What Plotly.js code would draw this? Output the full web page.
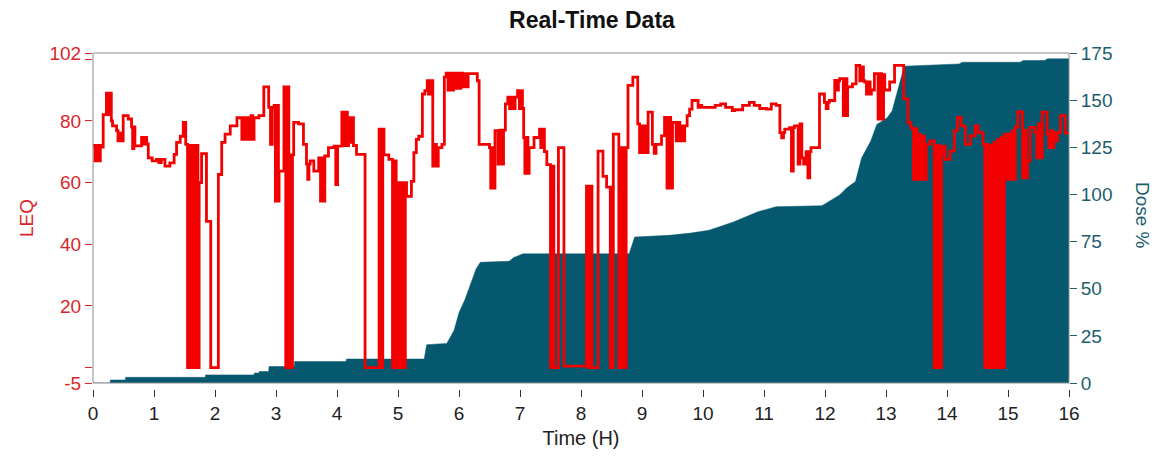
<!DOCTYPE html>
<html>
<head>
<meta charset="utf-8">
<script src="https://cdn.plot.ly/plotly-3.0.1.min.js"></script>
<style>
  html, body { margin: 0; padding: 0; background: #ffffff; }
  #chart { width: 1157px; height: 456px; }
</style>
</head>
<body>
<div id="chart"></div>
<script>
// ---- Data ----
// LEQ (dB) step series: time in hours, value in dB
const leqTime = [
  0.00,0.03,0.06,0.09,0.12,0.14,0.167,0.22,0.25,0.28,0.30,0.32,0.386,0.41,0.44,0.47,0.495,0.577,0.632,0.65,
  0.67,0.687,0.796,0.82,0.85,0.88,0.906,0.97,1.04,1.08,1.12,1.18,1.26,1.33,1.37,1.43,1.48,1.52,1.55,1.58,
  1.61,1.64,1.67,1.70,1.72,1.74,1.78,1.86,1.93,2.055,2.11,2.165,2.25,2.36,2.44,2.47,2.50,2.53,2.56,2.59,
  2.62,2.64,2.72,2.80,2.88,2.91,2.94,2.97,2.99,3.02,3.04,3.05,3.13,3.16,3.19,3.21,3.23,3.25,3.27,3.29,
  3.37,3.45,3.50,3.52,3.54,3.56,3.62,3.70,3.73,3.76,3.78,3.80,3.86,3.95,3.98,4.01,4.08,4.11,4.14,4.17,
  4.19,4.22,4.25,4.27,4.32,4.46,4.69,4.72,4.75,4.77,4.85,4.91,4.94,4.97,5.00,5.03,5.06,5.09,5.12,5.14,
  5.22,5.26,5.30,5.34,5.40,5.44,5.48,5.50,5.52,5.54,5.56,5.57,5.60,5.63,5.66,5.72,5.76,5.79,5.82,5.85,
  5.88,5.91,5.94,5.97,6.00,6.03,6.06,6.09,6.12,6.15,6.30,6.33,6.50,6.52,6.55,6.57,6.59,6.64,6.67,6.70,
  6.73,6.76,6.80,6.83,6.86,6.89,6.92,6.96,6.99,7.02,7.04,7.06,7.08,7.11,7.13,7.15,7.23,7.32,7.34,7.37,
  7.40,7.44,7.50,7.53,7.555,7.63,7.72,8.09,8.12,8.15,8.18,8.28,8.36,8.42,8.48,8.50,8.52,8.53,8.62,8.645,
  8.67,8.695,8.72,8.74,8.77,8.85,8.93,8.96,8.99,9.02,9.05,9.08,9.10,9.17,9.20,9.23,9.32,9.37,9.41,9.44,
  9.47,9.50,9.56,9.59,9.62,9.65,9.68,9.70,9.74,9.78,9.82,9.92,9.95,9.98,10.20,10.29,10.37,10.48,10.52,10.65,
  10.76,10.84,10.93,11.04,11.12,11.20,11.26,11.29,11.32,11.34,11.42,11.45,11.48,11.50,11.56,11.59,11.62,11.65,11.69,11.72,
  11.75,11.77,11.91,11.99,12.02,12.05,12.07,12.16,12.19,12.22,12.24,12.30,12.33,12.36,12.37,12.45,12.51,12.57,12.60,12.63,
  12.65,12.68,12.71,12.74,12.76,12.81,12.87,12.90,12.93,12.96,12.98,13.06,13.14,13.29,13.36,13.40,13.42,13.45,13.48,13.51,
  13.54,13.57,13.60,13.63,13.66,13.72,13.79,13.82,13.85,13.88,13.90,13.91,13.93,13.95,13.97,14.05,14.12,14.17,14.23,14.30,
  14.38,14.46,14.51,14.59,14.62,14.65,14.68,14.71,14.74,14.77,14.80,14.83,14.86,14.89,14.92,14.94,14.98,15.01,15.04,15.07,
  15.10,15.12,15.16,15.20,15.24,15.27,15.30,15.32,15.36,15.44,15.47,15.50,15.53,15.56,15.64,15.67,15.70,15.73,15.75,15.78,
  15.81,15.86,15.94,16.00
];
const leqValue = [
  72,67,72,67,72,71.5,82,89,82,89,80,78.4,76.8,73.5,76,73.5,81.7,80.6,78,71,
  78,71.9,74.6,72.5,74.6,72.5,68,67,67.5,66.5,67.5,65.3,66.4,69.1,73,75,79.5,72.4,0,72,
  0,72,0,72,0,60,69.4,47.4,0,62.6,73,75.7,78.4,81,74,81,74,81,74,81.7,
  74,81,81.7,91,84.4,72.4,84.4,85,54,85,54,63.7,91,0,91,0,69,0,69,79.5,
  79,72.4,66,61,66,67,63.7,68,54,68,54,68.6,71.3,71.8,59.3,71.8,82.8,72,82.8,72,
  81,73,81,72,69.1,0,77.3,0,77.3,69,67.5,0,67,0,60,0,60,0,60,55.5,
  60.4,69.7,74,75,88.7,89.8,93,88.7,93,88.7,93,65.3,72.4,65.3,71.3,72.4,94.2,95.5,90,95.5,
  90,95.5,90.5,95.5,90.5,95.5,91,95.3,91,95.3,93,72.4,71.3,58.2,71.3,58.2,76.8,66,77,66,
  77,85.5,87.7,84,87.7,84,87.7,89.8,84,89.8,84,74.6,63,74.6,63,71.3,74.6,77.3,71.3,77.3,
  70,65.8,0,65.3,0,71.3,0.5,58.8,0,58.8,0,70.2,62,58.5,0,58.5,0,75.7,0,71.3,
  0,71.3,0,71.3,91.5,94.2,79,69.7,78.4,69.7,78.4,69.7,82.8,72.4,69.5,72.4,75.1,81.1,58.2,81.1,
  58.2,79.5,73.5,79.5,73.5,78.4,73.5,78.4,81.7,83.8,86.6,84.4,85,84.4,85,85.5,84.4,83.3,83.6,85,
  86,85,84,83.8,85.5,85,76.2,74.5,76.2,77.3,77.8,63.7,77.8,78.4,66,79,68,66,70,61.5,
  70,71.3,88.7,86,84,86,86.6,93.1,90,93,93.7,81.7,93.7,81.7,91,92,98,93,97.5,93,
  92.6,88.7,92.6,88.7,90,95.3,80.6,95.3,80.6,95,90,92.6,98,87.1,79.5,78.4,77.5,61,77.5,61,
  75.5,61,75,61,72.4,73.5,0,72,0,71.8,0,71.8,69,71.8,67.5,70.2,76.8,81.1,78.4,72.4,
  75.1,78.4,76.2,72.4,0,72.4,0,72,0,73,0,74,0,74.6,0,75.7,61,75.7,61,76.8,
  61,78,83,82.8,61.5,77,61.5,67,77.9,76.2,68,79,68,82.8,75.7,71.3,76.8,71.3,76.2,73.5,
  76.2,81.7,76,76
];

// Dose (%) cumulative series: time in hours, dose in %
const doseTime = [
  0,0.28,0.285,0.53,0.535,1.84,1.845,2.64,2.645,2.72,2.725,2.88,2.885,3.3,3.305,4.15,4.155,5.43,5.47,5.8,
  5.92,6.0,6.1,6.2,6.28,6.35,6.82,6.9,7.05,8.79,8.88,9.45,9.8,10.1,10.5,10.9,11.2,11.95,12.05,12.24,
  12.35,12.5,12.6,12.75,12.85,13.02,13.1,13.18,13.22,13.3,14.2,14.25,15.2,15.25,15.6,15.65,16
];
const doseValue = [
  0,0,1.6,1.6,3.0,3.0,4.3,4.3,5.3,5.3,6.1,6.1,8.7,8.7,11.4,11.4,12.7,12.7,20.3,21,
  28,37.3,44.4,53.3,60.5,64,64.5,66.6,68.5,68.5,77.4,78.3,79.5,81,85.4,90.8,93.5,94,96.1,99.7,
  103.3,106.8,119.3,128.3,137.1,140.7,144.3,153.2,158.5,168,169.2,170.1,170.1,171,171,171.9,171.9
];

// Axis ticks
const hourTicks = [0,1,2,3,4,5,6,7,8,9,10,11,12,13,14,15,16];
const leqTickVals = [-5,0,20,40,60,80,100,102];
const leqTickText = ['-5','','20','40','60','80','','102'];
const doseTickVals = [0,25,50,75,100,125,150,175];

// ---- Styling ----
const RED = '#f20000';
const RED_TXT = '#d9262b';
const TEAL = '#05586d';
const TEAL_TXT = '#1e5e6c';
const FONT = 'Liberation Sans, Arial, sans-serif';
const plotBottomGap = 6 / 336;

const traces = [
  {
    x: doseTime, y: doseValue, yaxis: 'y', xaxis: 'x',
    type: 'scatter', mode: 'lines',
    line: { shape: 'linear', color: TEAL, width: 0.5 },
    fill: 'tozeroy', fillcolor: TEAL,
    hoverinfo: 'skip', showlegend: false
  },
  {
    x: leqTime, y: leqValue, yaxis: 'y2', xaxis: 'x',
    type: 'scatter', mode: 'lines',
    line: { shape: 'hv', color: RED, width: 2.8 },
    hoverinfo: 'skip', showlegend: false
  }
];

const layout = {
  width: 1157, height: 456,
  margin: { l: 93, r: 88, t: 53, b: 67, pad: 0 },
  paper_bgcolor: '#ffffff', plot_bgcolor: '#ffffff',
  showlegend: false,
  font: { family: FONT, size: 19, color: '#222' },
  title: {
    text: 'Real-Time Data',
    font: { family: FONT, size: 23, color: '#111', weight: 'bold' },
    x: 592 / 1157, xref: 'container', xanchor: 'center',
    y: 1 - 20 / 456, yref: 'container', yanchor: 'middle'
  },
  xaxis: {
    range: [0, 16], anchor: 'free', position: 0,
    tickmode: 'array', tickvals: hourTicks,
    ticks: 'outside', ticklen: 7, tickwidth: 1, tickcolor: '#333',
    tickfont: { family: FONT, size: 19, color: '#222' },
    showline: false, showgrid: false, zeroline: false,
    title: { text: 'Time (H)', font: { family: FONT, size: 20, color: '#222' }, standoff: 8 }
  },
  yaxis: {
    range: [0, 175], side: 'right', domain: [plotBottomGap, 1],
    tickmode: 'array', tickvals: doseTickVals,
    ticks: 'outside', ticklen: 7, tickwidth: 1, tickcolor: TEAL_TXT,
    tickfont: { family: FONT, size: 19, color: TEAL_TXT },
    showline: false, showgrid: false, zeroline: false
  },
  yaxis2: {
    range: [-5, 102], side: 'left', overlaying: 'y',
    tickmode: 'array', tickvals: leqTickVals, ticktext: leqTickText,
    ticks: 'outside', ticklen: 7, tickwidth: 1, tickcolor: RED_TXT,
    tickfont: { family: FONT, size: 19, color: RED_TXT },
    showline: false, showgrid: false, zeroline: false,
    title: { text: 'LEQ', font: { family: FONT, size: 19, color: RED_TXT }, standoff: 10 }
  },
  shapes: [
    { type: 'rect', xref: 'paper', yref: 'paper', x0: 0, x1: 1, y0: plotBottomGap, y1: 1,
      line: { color: '#8c8c8c', width: 1 }, fillcolor: 'rgba(0,0,0,0)', layer: 'above' }
  ],
  annotations: [
    { text: 'Dose %', xref: 'paper', yref: 'paper', x: 1.0748, y: 0.518,
      xanchor: 'center', yanchor: 'middle', textangle: 90, showarrow: false,
      font: { family: FONT, size: 19, color: TEAL_TXT } }
  ]
};

Plotly.newPlot('chart', traces, layout, { staticPlot: true, displayModeBar: false });
</script>
</body>
</html>
